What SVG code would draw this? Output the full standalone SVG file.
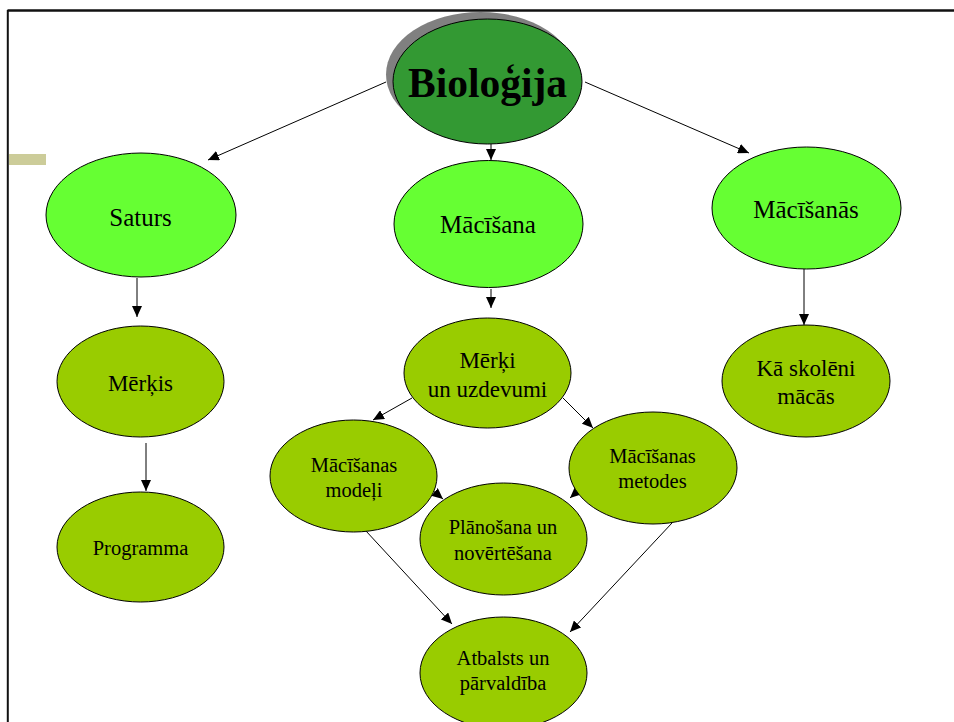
<svg xmlns="http://www.w3.org/2000/svg" width="954" height="722" viewBox="0 0 954 722">
  <style>
    .top { fill: #66ff33; stroke: #000; stroke-width: 1; }
    .sub { fill: #99cc00; stroke: #000; stroke-width: 1; }
    .lbl { font-family: "Liberation Serif", "Times New Roman", serif; fill: #000; text-anchor: middle; }
    .l1 { font-size: 25px; }
    .l2 { font-size: 23px; }
    .l3 { font-size: 20.5px; }
    .edge { stroke: #000; stroke-width: 1; fill: none; marker-end: url(#arrow); }
  </style>
  <defs>
    <marker id="arrow" markerUnits="userSpaceOnUse" markerWidth="12" markerHeight="10" refX="11" refY="5" orient="auto">
      <path d="M0,0 L11,5 L0,10 Z" fill="#000"/>
    </marker>
  </defs>

  <rect x="0" y="0" width="954" height="722" fill="#fff"/>

  <!-- slide frame -->
  <g id="frame">
    <line x1="7.5" y1="10.5" x2="954" y2="10.5" stroke="#111" stroke-width="2.5"/>
    <line x1="7.8" y1="10" x2="7.8" y2="722" stroke="#111" stroke-width="2"/>
    <rect x="9" y="154" width="37" height="11" fill="#cccc99"/>
  </g>

  <!-- connectors -->
  <g id="connectors">
    <line class="edge" x1="386" y1="82" x2="208" y2="160"/>
    <line class="edge" x1="491" y1="144" x2="491" y2="160"/>
    <line class="edge" x1="585" y1="82" x2="749" y2="153"/>
    <line class="edge" x1="137" y1="278" x2="137" y2="317"/>
    <line class="edge" x1="146" y1="443" x2="146" y2="491"/>
    <line class="edge" x1="491" y1="289" x2="491" y2="308"/>
    <line class="edge" x1="804" y1="269" x2="804" y2="325"/>
    <line class="edge" x1="412" y1="398" x2="373" y2="420"/>
    <line class="edge" x1="563" y1="398" x2="593" y2="428"/>
    <line class="edge" x1="431" y1="489" x2="443" y2="499"/>
    <line class="edge" x1="580" y1="489" x2="570" y2="498"/>
    <line class="edge" x1="366" y1="531" x2="452" y2="624"/>
    <line class="edge" x1="672" y1="523" x2="570" y2="632"/>
  </g>

  <g id="biologija">
    <ellipse cx="480.5" cy="74.5" rx="94.5" ry="62.5" fill="#808080"/>
    <ellipse cx="487.5" cy="81.5" rx="94.5" ry="62.5" fill="#339933" stroke="#000" stroke-width="1"/>
    <text class="lbl" x="487.5" y="97" font-size="41.5" font-weight="bold">Bioloģija</text>
  </g>

  <g id="saturs">
    <ellipse class="top" cx="141" cy="215" rx="95" ry="62"/>
    <text class="lbl l1" x="140.5" y="226">Saturs</text>
  </g>

  <g id="macisana">
    <ellipse class="top" cx="488.5" cy="224" rx="94.5" ry="63.5"/>
    <text class="lbl l1" x="488" y="233">Mācīšana</text>
  </g>

  <g id="macisanas-top">
    <ellipse class="top" cx="806.5" cy="208" rx="94.5" ry="61"/>
    <text class="lbl l1" x="806" y="218">Mācīšanās</text>
  </g>

  <g id="merkis">
    <ellipse class="sub" cx="140.5" cy="381.5" rx="83.5" ry="55.5"/>
    <text class="lbl l2" x="140.5" y="391">Mērķis</text>
  </g>

  <g id="programma">
    <ellipse class="sub" cx="140.5" cy="547" rx="83.5" ry="55"/>
    <text class="lbl l3" x="140.5" y="555">Programma</text>
  </g>

  <g id="merki-uzdevumi">
    <ellipse class="sub" cx="487.5" cy="373" rx="83.5" ry="55"/>
    <text class="lbl l2" x="487.5" y="368">Mērķi</text>
    <text class="lbl l2" x="487.5" y="397">un uzdevumi</text>
  </g>

  <g id="ka-skoleni">
    <ellipse class="sub" cx="806" cy="381" rx="84" ry="56"/>
    <text class="lbl l2" x="806" y="376">Kā skolēni</text>
    <text class="lbl l2" x="806" y="404">mācās</text>
  </g>

  <g id="modeli">
    <ellipse class="sub" cx="353.5" cy="476" rx="83.5" ry="56"/>
    <text class="lbl l3" x="354" y="472">Mācīšanas</text>
    <text class="lbl l3" x="354" y="497">modeļi</text>
  </g>

  <g id="metodes">
    <ellipse class="sub" cx="653" cy="468" rx="84" ry="56"/>
    <text class="lbl l3" x="652.5" y="463">Mācīšanas</text>
    <text class="lbl l3" x="652.5" y="488">metodes</text>
  </g>

  <g id="planosana">
    <ellipse class="sub" cx="503.5" cy="539" rx="83.5" ry="56"/>
    <text class="lbl l3" x="503" y="534">Plānošana un</text>
    <text class="lbl l3" x="503" y="560">novērtēšana</text>
  </g>

  <g id="atbalsts">
    <ellipse class="sub" cx="503.5" cy="673" rx="83.5" ry="56"/>
    <text class="lbl l3" x="503" y="665">Atbalsts un</text>
    <text class="lbl l3" x="503" y="690">pārvaldība</text>
  </g>
</svg>
